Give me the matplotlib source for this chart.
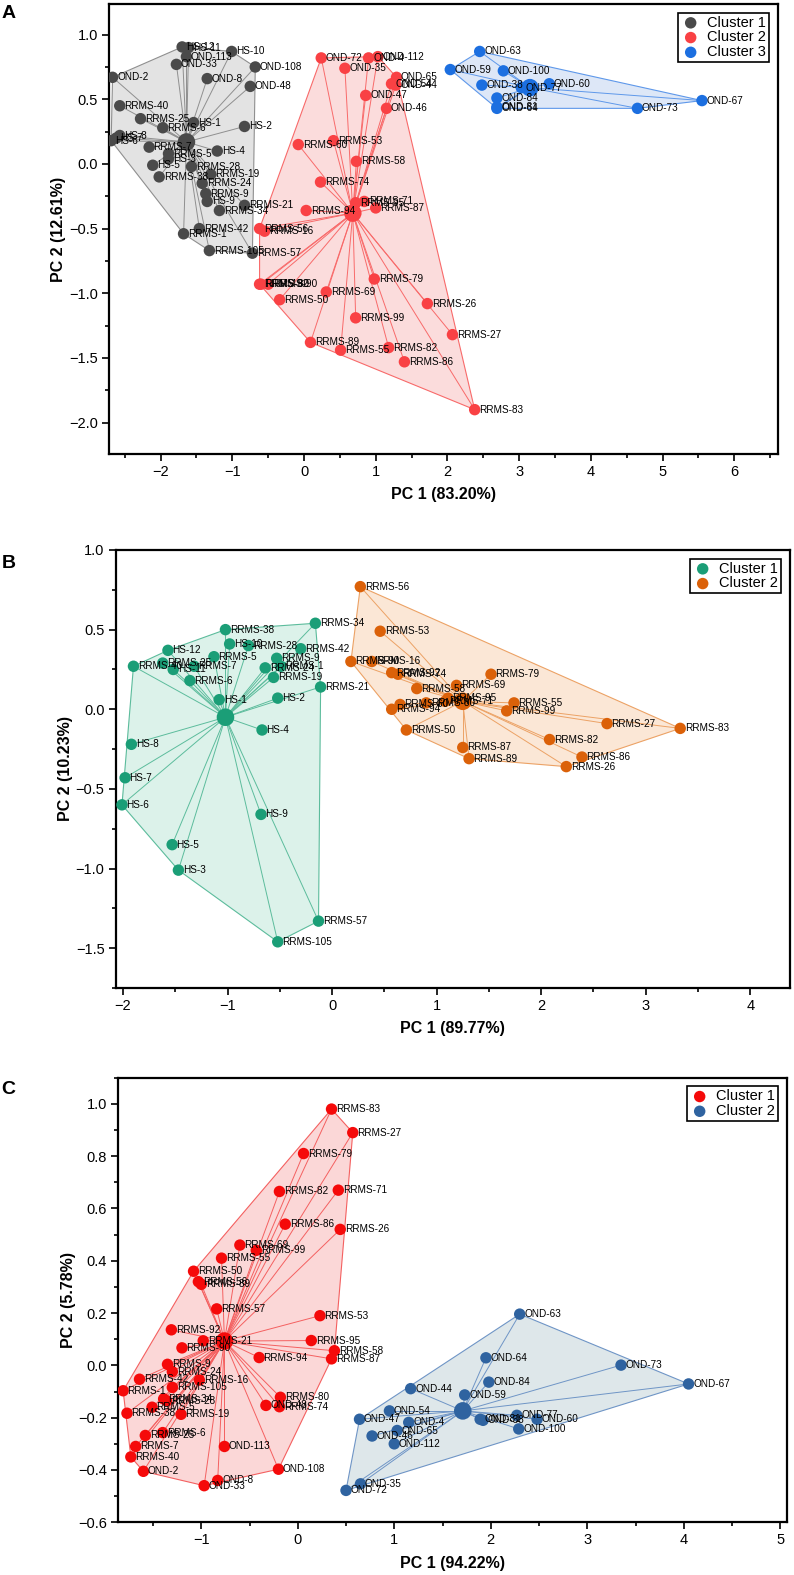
import numpy as np
import matplotlib.pyplot as plt
from matplotlib.ticker import MultipleLocator

plt.rcParams['font.family'] = ['Liberation Sans', 'DejaVu Sans']

# ---------------- Panel A ----------------
a1_names = ['HS-12', 'HS-11', 'OND-113', 'HS-10', 'OND-33', 'OND-108', 'OND-2', 'OND-8',
            'OND-48', 'RRMS-40', 'RRMS-25', 'HS-1', 'RRMS-6', 'HS-2', 'HS-8', 'HS-7', 'HS-6',
            'RRMS-7', 'HS-4', 'RRMS-5', 'HS-3', 'HS-5', 'RRMS-28', 'RRMS-38', 'RRMS-19',
            'RRMS-24', 'RRMS-9', 'HS-9', 'RRMS-21', 'RRMS-34', 'RRMS-42', 'RRMS-1',
            'RRMS-105', 'RRMS-57']
a1_x = [-1.70, -1.61, -1.64, -1.01, -1.78, -0.68, -2.67, -1.35, -0.75, -2.57, -2.28, -1.54,
        -1.97, -0.83, -2.57, -2.62, -2.69, -2.16, -1.21, -1.89, -1.89, -2.11, -1.57, -2.02,
        -1.30, -1.42, -1.37, -1.35, -0.83, -1.18, -1.46, -1.68, -1.32, -0.72]
a1_y = [0.905, 0.90, 0.83, 0.87, 0.77, 0.75, 0.67, 0.66, 0.60, 0.45, 0.35, 0.32, 0.28, 0.29,
        0.22, 0.20, 0.18, 0.13, 0.10, 0.08, 0.04, -0.01, -0.02, -0.10, -0.08, -0.15, -0.23,
        -0.29, -0.32, -0.36, -0.50, -0.54, -0.67, -0.69]
a1_center = (-1.64, 0.17)

a2_names = ['OND-72', 'OND-35', 'OND-4', 'OND-112', 'OND-65', 'OND-54', 'OND-44', 'OND-47',
            'OND-46', 'RRMS-60', 'RRMS-53', 'RRMS-58', 'RRMS-74', 'RRMS-71', 'RRMS-95',
            'RRMS-87', 'RRMS-94', 'RRMS-56', 'RRMS-16', 'RRMS-92', 'RRMS-80', 'RRMS-90',
            'RRMS-69', 'RRMS-50', 'RRMS-79', 'RRMS-26', 'RRMS-99', 'RRMS-27', 'RRMS-89',
            'RRMS-55', 'RRMS-82', 'RRMS-86', 'RRMS-83']
a2_x = [0.24, 0.57, 0.90, 1.03, 1.29, 1.22, 1.28, 0.86, 1.15, -0.08, 0.41, 0.73, 0.23, 0.84,
        0.72, 1.00, 0.03, -0.62, -0.55, -0.62, -0.60, -0.50, 0.31, -0.34, 0.98, 1.72, 0.72,
        2.07, 0.09, 0.51, 1.18, 1.40, 2.38]
a2_y = [0.82, 0.74, 0.82, 0.83, 0.67, 0.62, 0.61, 0.53, 0.43, 0.15, 0.18, 0.02, -0.14, -0.29,
        -0.30, -0.34, -0.36, -0.50, -0.52, -0.93, -0.93, -0.93, -0.99, -1.05, -0.89, -1.08,
        -1.19, -1.32, -1.38, -1.44, -1.42, -1.53, -1.90]
a2_center = (0.68, -0.38)

a3_names = ['OND-63', 'OND-59', 'OND-100', 'OND-38', 'OND-77', 'OND-60', 'OND-84', 'OND-81',
            'OND-64', 'OND-73', 'OND-67']
a3_x = [2.45, 2.04, 2.78, 2.48, 3.03, 3.42, 2.69, 2.69, 2.69, 4.65, 5.55]
a3_y = [0.87, 0.73, 0.72, 0.61, 0.59, 0.62, 0.51, 0.44, 0.43, 0.43, 0.49]
a3_center = (3.15, 0.59)

# ---------------- Panel B ----------------
b1_names = ['RRMS-38', 'RRMS-34', 'HS-10', 'RRMS-28', 'RRMS-42', 'HS-12', 'RRMS-5', 'RRMS-9',
            'RRMS-25', 'RRMS-40', 'HS-11', 'RRMS-7', 'RRMS-24', 'RRMS-1', 'RRMS-19', 'RRMS-6',
            'RRMS-21', 'HS-1', 'HS-2', 'HS-4', 'HS-8', 'HS-7', 'HS-6', 'HS-9', 'HS-5', 'HS-3',
            'RRMS-57', 'RRMS-105']
b1_x = [-1.02, -0.16, -0.98, -0.80, -0.30, -1.57, -1.13, -0.53, -1.62, -1.90, -1.52, -1.32,
        -0.64, -0.49, -0.56, -1.36, -0.11, -1.08, -0.52, -0.67, -1.92, -1.98, -2.01, -0.68,
        -1.53, -1.47, -0.13, -0.52]
b1_y = [0.50, 0.54, 0.41, 0.40, 0.38, 0.37, 0.33, 0.32, 0.29, 0.27, 0.25, 0.27, 0.26, 0.27,
        0.20, 0.18, 0.14, 0.06, 0.07, -0.13, -0.22, -0.43, -0.60, -0.66, -0.85, -1.01,
        -1.33, -1.46]
b1_center = (-1.02, -0.05)

b2_names = ['RRMS-56', 'RRMS-53', 'RRMS-90', 'RRMS-16', 'RRMS-92', 'RRMS-74', 'RRMS-79',
            'RRMS-58', 'RRMS-69', 'RRMS-95', 'RRMS-71', 'RRMS-55', 'RRMS-99', 'RRMS-94',
            'RRMS-60', 'RRMS-80', 'RRMS-50', 'RRMS-27', 'RRMS-83', 'RRMS-82', 'RRMS-87',
            'RRMS-89', 'RRMS-86', 'RRMS-26']
b2_x = [0.27, 0.46, 0.18, 0.38, 0.57, 0.63, 1.52, 0.81, 1.19, 1.11, 1.08, 1.74, 1.67, 0.57,
        0.65, 0.90, 0.71, 2.63, 3.33, 2.08, 1.25, 1.31, 2.39, 2.24]
b2_y = [0.77, 0.49, 0.30, 0.30, 0.23, 0.22, 0.22, 0.13, 0.15, 0.07, 0.05, 0.04, -0.01, 0.00,
        0.03, 0.04, -0.13, -0.09, -0.12, -0.19, -0.24, -0.31, -0.30, -0.36]
b2_center = (1.25, 0.05)

# ---------------- Panel C ----------------
c1_names = ['RRMS-83', 'RRMS-27', 'RRMS-79', 'RRMS-82', 'RRMS-71', 'RRMS-86', 'RRMS-26',
            'RRMS-69', 'RRMS-99', 'RRMS-55', 'RRMS-50', 'RRMS-56', 'RRMS-89', 'RRMS-57',
            'RRMS-53', 'RRMS-92', 'RRMS-21', 'RRMS-95', 'RRMS-90', 'RRMS-58', 'RRMS-94',
            'RRMS-87', 'RRMS-9', 'RRMS-24', 'RRMS-42', 'RRMS-16', 'RRMS-1', 'RRMS-105',
            'RRMS-80', 'RRMS-34', 'RRMS-28', 'OND-48', 'RRMS-74', 'RRMS-5', 'RRMS-38',
            'RRMS-19', 'RRMS-6', 'RRMS-25', 'OND-113', 'RRMS-7', 'RRMS-40', 'OND-2',
            'OND-108', 'OND-8', 'OND-33']
c1_x = [0.35, 0.57, 0.06, -0.19, 0.42, -0.13, 0.44, -0.60, -0.43, -0.79, -1.08, -1.03, -1.00,
        -0.84, 0.23, -1.31, -0.98, 0.14, -1.20, 0.38, -0.40, 0.35, -1.35, -1.30, -1.64, -1.02,
        -1.81, -1.30, -0.18, -1.39, -1.36, -0.33, -0.19, -1.51, -1.77, -1.21, -1.40, -1.58,
        -0.76, -1.68, -1.73, -1.60, -0.20, -0.83, -0.97]
c1_y = [0.98, 0.89, 0.81, 0.665, 0.67, 0.54, 0.52, 0.46, 0.44, 0.41, 0.36, 0.32, 0.31, 0.216,
        0.19, 0.136, 0.094, 0.095, 0.067, 0.056, 0.03, 0.025, 0.004, -0.024, -0.053, -0.056,
        -0.097, -0.084, -0.122, -0.128, -0.135, -0.153, -0.158, -0.16, -0.183, -0.187, -0.257,
        -0.268, -0.31, -0.31, -0.35, -0.405, -0.397, -0.44, -0.46]
c1_center = (-0.76, 0.093)

c2_names = ['OND-63', 'OND-64', 'OND-73', 'OND-84', 'OND-67', 'OND-44', 'OND-59', 'OND-54',
            'OND-4', 'OND-77', 'OND-81', 'OND-38', 'OND-60', 'OND-100', 'OND-65', 'OND-112',
            'OND-47', 'OND-46', 'OND-35', 'OND-72']
c2_x = [2.30, 1.95, 3.35, 1.98, 4.05, 1.17, 1.73, 0.95, 1.15, 2.27, 1.89, 1.92, 2.48, 2.29,
        1.03, 1.00, 0.64, 0.77, 0.65, 0.50]
c2_y = [0.196, 0.029, 0.001, -0.064, -0.071, -0.089, -0.113, -0.174, -0.218, -0.191, -0.206,
        -0.21, -0.206, -0.243, -0.249, -0.30, -0.206, -0.27, -0.453, -0.478]
c2_center = (1.71, -0.174)


def hull(xs, ys):
    pts = sorted(set(zip(xs, ys)))

    def cross(o, a, b):
        return (a[0] - o[0]) * (b[1] - o[1]) - (a[1] - o[1]) * (b[0] - o[0])

    lower, upper = [], []
    for p in pts:
        while len(lower) >= 2 and cross(lower[-2], lower[-1], p) <= 0:
            lower.pop()
        lower.append(p)
    for p in reversed(pts):
        while len(upper) >= 2 and cross(upper[-2], upper[-1], p) <= 0:
            upper.pop()
        upper.append(p)
    return lower[:-1] + upper[:-1]


def draw_cluster(ax, names, xs, ys, center, color, fill, line, label, s=68, cs=160):
    h = hull(xs, ys)
    ax.fill([p[0] for p in h], [p[1] for p in h], facecolor=fill, edgecolor=line,
            lw=0.8, zorder=1)
    for x, y in zip(xs, ys):
        ax.plot([center[0], x], [center[1], y], color=line, lw=0.7, zorder=2)
    ax.scatter(xs, ys, s=s, color=color, edgecolors='none', zorder=3, label=label)
    ax.scatter([center[0]], [center[1]], s=cs, color=color, edgecolors='none', zorder=3)
    for n, x, y in zip(names, xs, ys):
        ax.annotate(n, (x, y), xytext=(3.2, 0), textcoords='offset points',
                    ha='left', va='center', fontsize=7.2, zorder=4)


def style(ax, xlim, ylim, xmaj, ymaj, xlabel, ylabel):
    ax.set_xlim(*xlim)
    ax.set_ylim(*ylim)
    ax.xaxis.set_major_locator(MultipleLocator(xmaj))
    ax.xaxis.set_minor_locator(MultipleLocator(xmaj / 2))
    ax.yaxis.set_major_locator(MultipleLocator(ymaj))
    ax.yaxis.set_minor_locator(MultipleLocator(ymaj / 2))
    ax.tick_params(which='both', direction='out', top=False, right=False,
                   width=1.2, labelsize=10.5, pad=3)
    ax.tick_params(which='major', length=5)
    ax.tick_params(which='minor', length=3)
    for sp in ax.spines.values():
        sp.set_linewidth(1.6)
    ax.set_xlabel(xlabel, fontsize=11.5, fontweight='bold', labelpad=6)
    ax.set_ylabel(ylabel, fontsize=11.5, fontweight='bold', labelpad=2)
    leg = ax.legend(loc='upper right', fontsize=10.5, fancybox=False, edgecolor='black',
                    framealpha=1, handletextpad=0.5, borderpad=0.2, labelspacing=0.05,
                    handlelength=1.3, borderaxespad=0.6)
    leg.get_frame().set_linewidth(1.2)


fig = plt.figure(figsize=(7.94, 15.75), dpi=100)
H = 1575.0
W = 794.0

axA = fig.add_axes([109 / W, 1 - 454 / H, 669 / W, 450 / H])
draw_cluster(axA, a1_names, a1_x, a1_y, a1_center, '#4a4a4a', '#e3e3e3', '#8f8f8f', 'Cluster 1')
draw_cluster(axA, a2_names, a2_x, a2_y, a2_center, '#f94144', '#fbdcdc', '#f86a6a', 'Cluster 2')
draw_cluster(axA, a3_names, a3_x, a3_y, a3_center, '#1c6fe0', '#dde7f7', '#5e98ea', 'Cluster 3')
style(axA, (-2.72, 6.61), (-2.243, 1.237), 1, 0.5, 'PC 1 (83.20%)', 'PC 2 (12.61%)')

axB = fig.add_axes([115.7 / W, 1 - 988 / H, 674.3 / W, 438 / H])
draw_cluster(axB, b1_names, b1_x, b1_y, b1_center, '#1b9e77', '#dcf2ea', '#5cbc9c', 'Cluster 1')
draw_cluster(axB, b2_names, b2_x, b2_y, b2_center, '#db6109', '#fbe7d6', '#eca265', 'Cluster 2')
style(axB, (-2.07, 4.38), (-1.75, 1.0), 1, 0.5, 'PC 1 (89.77%)', 'PC 2 (10.23%)')

axC = fig.add_axes([118.3 / W, 1 - 1522.3 / H, 668.7 / W, 444.6 / H])
draw_cluster(axC, c1_names, c1_x, c1_y, c1_center, '#f50a0a', '#fbd7d7', '#f46060', 'Cluster 1')
draw_cluster(axC, c2_names, c2_x, c2_y, c2_center, '#2f63a0', '#dee7ea', '#6f95c6', 'Cluster 2')
style(axC, (-1.86, 5.07), (-0.6, 1.1), 1, 0.2, 'PC 1 (94.22%)', 'PC 2 (5.78%)')

fig.text(0.002, 1 - 13 / H, 'A', fontsize=14, fontweight='bold', va='center')
fig.text(0.002, 1 - 564 / H, 'B', fontsize=14, fontweight='bold', va='center')
fig.text(0.002, 1 - 1089 / H, 'C', fontsize=14, fontweight='bold', va='center')

fig.savefig('out.png', dpi=100)
